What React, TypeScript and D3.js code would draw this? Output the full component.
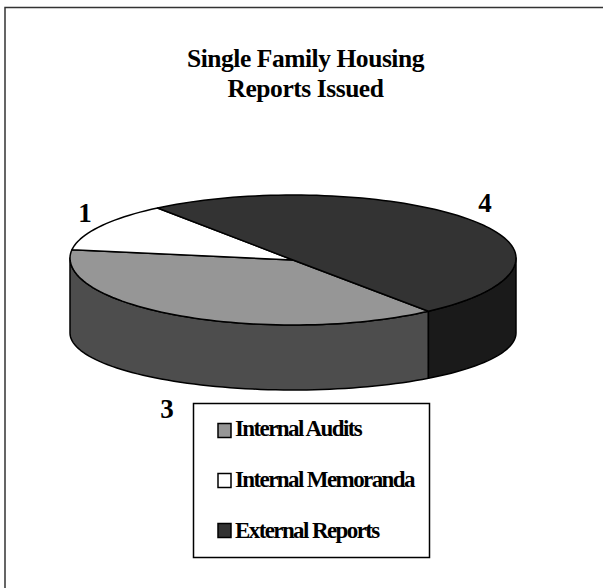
import React from "react";
import * as d3 from "d3";

const categories = ["Internal Audits", "Internal Memoranda", "External Reports"];
const values = [3, 1, 4];
const topColors = ["#969696", "#ffffff", "#333333"];
const sideColors = ["#4d4d4d", "#808080", "#1a1a1a"];
const titleLines = ["Single Family Housing", "Reports Issued"];
const startDeg = 142.6;

const cx = 293, cy = 258, rx = 223, ryBack = 63, ryFront = 67;
const apexY = 260, wallCy = 333, wallRy = 57;
const rad = (d: number) => (d * Math.PI) / 180;
const px = (a: number) => cx + rx * Math.sin(a);
const py = (a: number) => {
  const c = Math.cos(a);
  return c > 0 ? cy - ryBack * c : cy - ryFront * c;
};
const pyLow = (a: number) => wallCy - wallRy * Math.cos(a);

const pie = d3.pie<number>().sort(null).startAngle(rad(startDeg)).endAngle(rad(startDeg + 360));
const slices = pie(values);

const samples = (a0: number, a1: number) => {
  const n = Math.max(2, Math.ceil((a1 - a0) / rad(2)));
  return d3.range(n + 1).map((i) => a0 + ((a1 - a0) * i) / n);
};
const line = d3.line<[number, number]>();

function topPath(a0: number, a1: number) {
  const pts: [number, number][] = [[cx, apexY], ...samples(a0, a1).map((a) => [px(a), py(a)] as [number, number])];
  return line(pts) + "Z";
}
function wallPath(a0: number, a1: number) {
  const s = samples(a0, a1);
  const pts: [number, number][] = [
    ...s.map((a) => [px(a), py(a)] as [number, number]),
    ...s.slice().reverse().map((a) => [px(a), pyLow(a)] as [number, number]),
  ];
  return line(pts) + "Z";
}
function walls(s: d3.PieArcDatum<number>): [number, number][] {
  const out: [number, number][] = [];
  for (const k of [0, 1]) {
    const lo = Math.max(s.startAngle, rad(90 + 360 * k));
    const hi = Math.min(s.endAngle, rad(270 + 360 * k));
    if (hi > lo) out.push([lo, hi]);
  }
  return out;
}

const labelPos: [number, number][] = [[167, 418], [85, 222], [485, 212]];
const legendY = d3.scalePoint<string>().domain(categories).range([430.5, 530.5]);
const legendTextY = d3.scalePoint<string>().domain(categories).range([436, 538]);
const serif = "'Liberation Serif', serif";

export default function App() {
  return (
    <svg width={603} height={588} style={{ position: "absolute", left: 0, top: 0, display: "block" }} fontFamily={serif}>
      <rect x={0} y={0} width={603} height={588} fill="#fff" />
      <path d="M5,588V7.5H603" fill="none" stroke="#333" strokeWidth={1.5} />
      {titleLines.map((t, i) => (
        <text key={t} x={305.5} y={67 + i * 29.5} textAnchor="middle" fontWeight="bold" fontSize={25.5} letterSpacing={-0.45} fill="#000">{t}</text>
      ))}
      {slices.flatMap((s, i) =>
        walls(s).map(([a, b], j) => (
          <path key={`w${i}-${j}`} d={wallPath(a, b)} fill={sideColors[i]} stroke="#000" strokeWidth={1.5} strokeLinejoin="round" />
        ))
      )}
      {slices.map((s, i) => (
        <path key={`t${i}`} d={topPath(s.startAngle, s.endAngle)} fill={topColors[i]} stroke="#000" strokeWidth={1.5} strokeLinejoin="round" />
      ))}
      {values.map((v, i) => (
        <text key={i} x={labelPos[i][0]} y={labelPos[i][1]} textAnchor="middle" fontWeight="bold" fontSize={27} fill="#000">{v}</text>
      ))}
      <rect x={193.5} y={403.5} width={236} height={154} fill="#fff" stroke="#000" strokeWidth={1.5} />
      {categories.map((c, i) => (
        <g key={c}>
          <rect x={218} y={legendY(c)! - 7} width={13} height={14} fill={topColors[i]} stroke="#000" strokeWidth={1.5} />
          <text x={235} y={legendTextY(c)!} fontWeight="bold" fontSize={23} letterSpacing={-1.6} fill="#000">{c}</text>
        </g>
      ))}
    </svg>
  );
}
